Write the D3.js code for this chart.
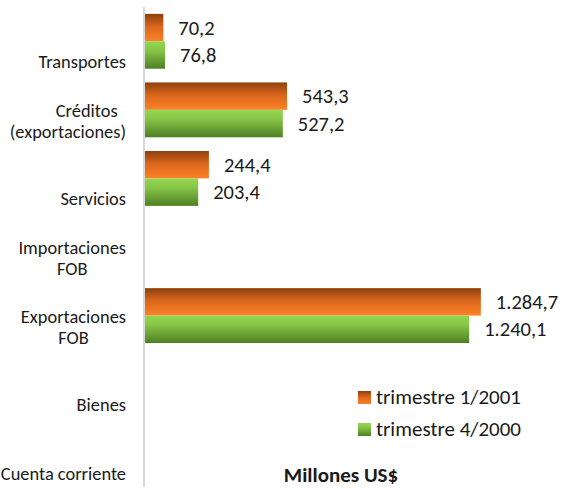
<!DOCTYPE html>
<html>
<head>
<meta charset="utf-8">
<script src="https://cdn.jsdelivr.net/npm/d3@7"></script>
<style>
  html, body { margin: 0; padding: 0; background: #fff; }
  svg { display: block; }
</style>
</head>
<body>
<svg id="chart"></svg>
<script>
// categories, top to bottom, each label split in lines
const categories = [
  ["Transportes"],
  ["Créditos\u00a0\u00a0", "(exportaciones)"],
  ["Servicios"],
  ["Importaciones", "FOB"],
  ["Exportaciones", "FOB"],
  ["Bienes"],
  ["Cuenta corriente"],
];
const seriesNames = ["trimestre 1/2001", "trimestre 4/2000"];
const q1_2001 = [70.2, 543.3, 244.4, null, 1284.7, null, null];
const q4_2000 = [76.8, 527.2, 203.4, null, 1240.1, null, null];
const axisTitle = "Millones US$";

const width = 562;
const height = 489;
const margin = { top: 7, right: 51, bottom: 2, left: 145 };

const svg = d3.select("#chart")
    .attr("width", width)
    .attr("height", height)
    .attr("viewBox", [0, 0, width, height])
    .style("font-family", "Carlito, Lato, 'Open Sans', sans-serif");

// spanish number format: 1.284,7
const locale = d3.formatLocale({ decimal: ",", thousands: ".", grouping: [3], currency: ["", ""] });
const fmt = locale.format(",.1f");

const keys = categories.map(c => c.join(" "));
const data = keys.map((k, i) => ({ key: k, lines: categories[i], values: [q1_2001[i], q4_2000[i]] }));

// scales
const scaleY = d3.scaleBand()
    .domain(keys)
    .range([margin.top, height - margin.bottom])
    .paddingInner(0.2)
    .paddingOuter(0.1);

const scaleSub = d3.scaleBand()
    .domain([0, 1])
    .range([0, scaleY.bandwidth()]);

const scaleX = d3.scaleLinear()
    .domain([0, 1400])
    .range([margin.left, width - margin.right]);

// gradients for the two series
const defs = svg.append("defs");
const gradients = [
  { id: "grad-orange", stops: [["0%", "#8e3f0e"], ["45%", "#d8661c"], ["85%", "#f47a22"], ["100%", "#f7852e"]] },
  { id: "grad-green", stops: [["0%", "#94d650"], ["35%", "#86c446"], ["100%", "#4f7f24"]] },
];
gradients.forEach(g => {
  const lg = defs.append("linearGradient")
      .attr("id", g.id)
      .attr("x1", 0).attr("y1", 0)
      .attr("x2", 0).attr("y2", 1);
  lg.selectAll("stop")
    .data(g.stops)
    .join("stop")
      .attr("offset", d => d[0])
      .attr("stop-color", d => d[1]);
});
const fills = ["url(#grad-orange)", "url(#grad-green)"];

// vertical category axis line
svg.append("line")
    .attr("x1", scaleX(0) - 1).attr("x2", scaleX(0) - 1)
    .attr("y1", margin.top).attr("y2", height - margin.bottom)
    .attr("stroke", "#d9d9d9")
    .attr("stroke-width", 2);

// category labels
const labelX = 126;
const labels = svg.append("g")
    .attr("fill", "#1a1a1a")
    .style("font-size", "18.4px")
    .style("white-space", "pre")
    .selectAll("text")
    .data(data)
    .join("text")
      .attr("text-anchor", "end")
      .attr("y", d => {
        const c = scaleY(d.key) + scaleY.bandwidth() / 2;
        return d.lines.length > 1 ? c + 7 : c + 27;
      });

labels.each(function (d) {
  const t = d3.select(this);
  d.lines.forEach((line, i) => {
    t.append("tspan")
      .attr("x", labelX)
      .attr("dy", i === 0 ? 0 : 21)
      .text(line);
  });
});

// center the short "FOB" lines under their first line
labels.each(function (d) {
  if (d.lines.length < 2 || d.lines[1] !== "FOB") return;
  const spans = d3.select(this).selectAll("tspan").nodes();
  const w0 = spans[0].getComputedTextLength();
  spans.slice(1).forEach(s => {
    d3.select(s).attr("text-anchor", "middle").attr("x", labelX - w0 / 2);
  });
});

// bars
const groups = svg.append("g")
    .selectAll("g")
    .data(data)
    .join("g")
      .attr("transform", d => `translate(0,${scaleY(d.key)})`);

groups.selectAll("rect")
    .data(d => d.values.map((v, i) => ({ v, i })).filter(e => e.v != null))
    .join("rect")
      .attr("x", scaleX(0))
      .attr("y", e => scaleSub(e.i))
      .attr("width", e => scaleX(e.v) - scaleX(0))
      .attr("height", scaleSub.bandwidth())
      .attr("fill", e => fills[e.i]);

// value labels
groups.selectAll("text")
    .data(d => d.values.map((v, i) => ({ v, i })).filter(e => e.v != null))
    .join("text")
      .attr("x", e => scaleX(e.v) + 15)
      .attr("y", e => scaleSub(e.i) + scaleSub.bandwidth() / 2)
      .attr("dy", "0.35em")
      .attr("fill", "#1a1a1a")
      .style("font-size", "20.5px")
      .text(e => fmt(e.v));

// legend
const legend = svg.append("g")
    .selectAll("g")
    .data(seriesNames)
    .join("g")
      .attr("transform", (d, i) => `translate(358,${391 + i * 32})`);

legend.append("rect")
    .attr("width", 13)
    .attr("height", 13)
    .attr("fill", (d, i) => fills[i]);

legend.append("text")
    .attr("x", 18)
    .attr("y", 13)
    .attr("fill", "#1a1a1a")
    .style("font-size", "21px")
    .text(d => d);

// axis title
svg.append("text")
    .attr("x", 341)
    .attr("y", 482)
    .attr("text-anchor", "middle")
    .attr("fill", "#1a1a1a")
    .style("font-size", "21px")
    .style("font-weight", "bold")
    .text(axisTitle);
</script>
</body>
</html>
